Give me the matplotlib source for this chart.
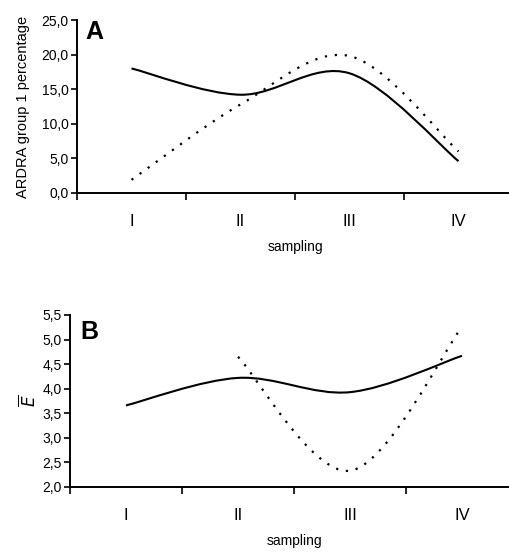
import numpy as np
import matplotlib
matplotlib.use('Agg')
from matplotlib import pyplot as plt
from matplotlib.path import Path
from matplotlib.patches import PathPatch

plt.rcParams['font.family'] = ['Liberation Sans', 'DejaVu Sans']

# data
samplings = ['I', 'II', 'III', 'IV']
ardra_solid = [18.0, 14.2, 17.3, 4.6]
ardra_dotted = [1.9, 12.8, 19.8, 6.0]
e_solid = [3.66, 4.22, 3.93, 4.67]
e_dotted = [None, 4.65, 2.33, 5.26]

a_yticks = [0, 5, 10, 15, 20, 25]
b_yticks = [2.0, 2.5, 3.0, 3.5, 4.0, 4.5, 5.0, 5.5]


def smooth_line(ax, values, **kw):
    # Excel-like "smoothed line": cubic bezier segments through the points
    pts = [(i + 1, v) for i, v in enumerate(values) if v is not None]
    pts = np.array(pts, dtype=float)
    n = len(pts)
    verts = [pts[0]]
    codes = [Path.MOVETO]
    for i in range(n - 1):
        p0 = pts[max(i - 1, 0)]
        p1 = pts[i]
        p2 = pts[i + 1]
        p3 = pts[min(i + 2, n - 1)]
        c1 = p1 + (p2 - p0) / 6.0
        c2 = p2 - (p3 - p1) / 6.0
        verts += [c1, c2, p2]
        codes += [Path.CURVE4] * 3
    ax.add_patch(PathPatch(Path(verts, codes), fill=False, **kw))


def style_axes(ax, ylim, yticks, fmt):
    ax.set_xlim(0.5, 4.5)
    ax.set_ylim(*ylim)
    ax.spines['top'].set_visible(False)
    ax.spines['right'].set_visible(False)
    ax.spines['left'].set_linewidth(1.4)
    ax.spines['bottom'].set_linewidth(1.4)
    ax.set_xticks([0.5, 1.5, 2.5, 3.5])
    ax.set_xticklabels([])
    ax.set_xticks([1, 2, 3, 4], minor=True)
    ax.set_xticklabels(samplings, minor=True, fontsize=12)
    ax.tick_params(axis='x', which='major', length=5, width=1.2, direction='out')
    ax.tick_params(axis='x', which='minor', length=0, pad=15)
    ax.set_yticks(yticks)
    ax.set_yticklabels([fmt.format(t).replace('.', ',') for t in yticks], fontsize=10)
    ax.tick_params(axis='y', length=4, width=1.2, direction='out', pad=2)
    ax.set_xlabel('sampling', fontsize=10, labelpad=8)


fig = plt.figure(figsize=(5.10, 5.53), dpi=100)

solid_kw = dict(color='black', lw=1.5)
dot_kw = dict(color='black', lw=1.6, linestyle=(0, (1, 3.5)), capstyle='butt')

# panel A
ax1 = fig.add_axes([77 / 510, 1 - 193 / 553, 436 / 510, 173 / 553])
smooth_line(ax1, ardra_solid, **solid_kw)
smooth_line(ax1, ardra_dotted, **dot_kw)
style_axes(ax1, (0, 25), a_yticks, '{:.1f}')
ax1.set_ylabel('ARDRA group 1 percentage', fontsize=10.5, labelpad=8)
ax1.text(0.02, 0.93, 'A', transform=ax1.transAxes, fontsize=18,
         fontweight='bold', va='center', ha='left')

# panel B
ax2 = fig.add_axes([70 / 510, 1 - 487 / 553, 448 / 510, 172 / 553])
smooth_line(ax2, e_solid, **solid_kw)
smooth_line(ax2, e_dotted, **dot_kw)
style_axes(ax2, (2.0, 5.5), b_yticks, '{:.1f}')
ax2.set_ylabel(r'$\overline{E}$', fontsize=12, labelpad=3)
ax2.text(0.023, 0.9, 'B', transform=ax2.transAxes, fontsize=18,
         fontweight='bold', va='center', ha='left')

fig.savefig('out.png', dpi=100)
